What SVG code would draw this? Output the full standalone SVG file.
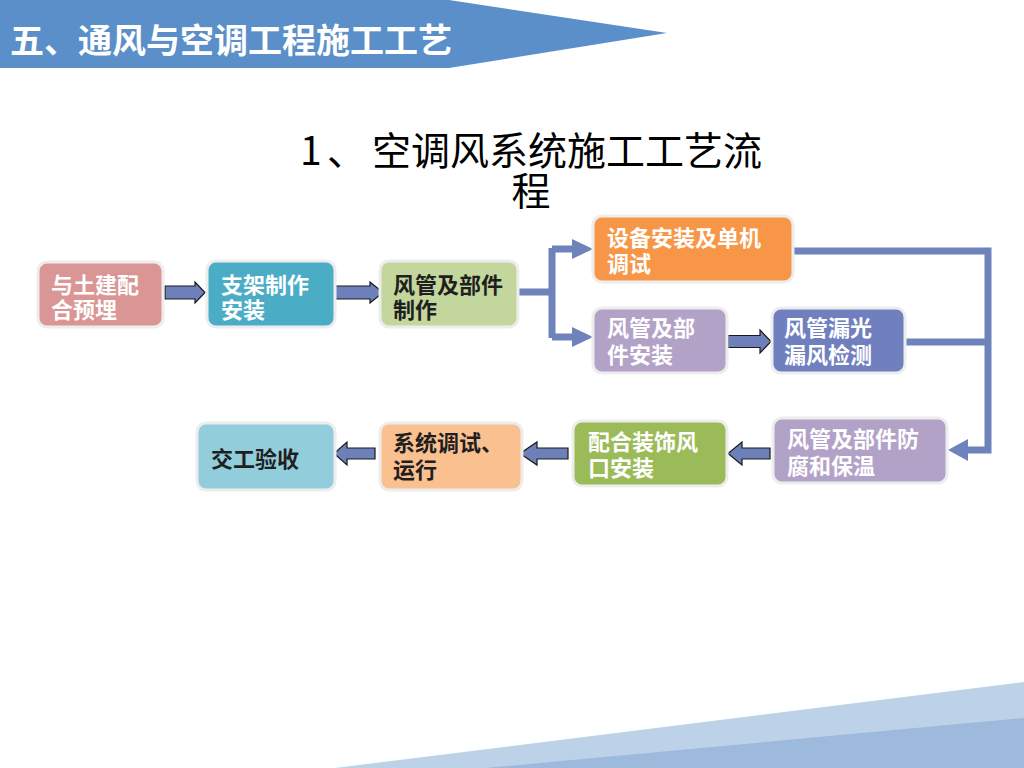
<svg xmlns="http://www.w3.org/2000/svg" width="1024" height="768" viewBox="0 0 1024 768">
<style>
.node rect{stroke:#EDEDED;stroke-width:3}
.t{font-family:"Liberation Sans","Noto Sans CJK SC",sans-serif;font-size:22px;font-weight:bold}
.w{fill:#FFFFFF}
.d{fill:#1F1F1F}
.blk{fill:#6E80BA;stroke:#1A1A1A;stroke-width:1.2}
.ln{fill:none;stroke:#6E82BC;stroke-width:7}
.hd{fill:#6E82BC}
.ttl{font-family:"Noto Sans CJK SC",sans-serif;font-size:39px;fill:#000000}
</style>
<rect width="1024" height="768" fill="#FFFFFF"/>
<polygon points="0,0 449,0 667,33 449,68 0,68" fill="#5B8FC9"/>
<text x="10" y="53" font-family="'Noto Sans CJK SC',sans-serif" font-size="34" font-weight="bold" fill="#FFFFFF">五、通风与空调工程施工工艺</text>
<text class="ttl" y="165"><tspan x="300">1</tspan><tspan x="327">、</tspan><tspan x="372">空调风系统施工工艺流</tspan></text>
<text class="ttl" x="531" y="205" text-anchor="middle">程</text>
<polygon points="335,768 1024,682 1024,768" fill="#BDD1E8"/>
<polygon points="486,768 1024,718 1024,768" fill="#9DB9DC"/>
<g id="connectors">
<path class="blk" d="M165,286 H195 V282 L205,292.5 L195,303 V299 H165 Z"/>
<path class="blk" d="M335,286 H370 V282 L383,292.5 L370,303 V299 H335 Z"/>
<path class="blk" d="M728,335.5 H760 V330 L771,341.5 L760,353 V347.5 H728 Z"/>
<path class="blk" d="M770,448 H742 V442 L728,453.5 L742,465 V459 H770 Z"/>
<path class="blk" d="M568,448 H537 V442 L520,453.5 L537,465 V459 H568 Z"/>
<path class="blk" d="M375,448 H347 V442 L334,453.5 L347,465 V459 H375 Z"/>
<path class="ln" d="M518,292 H552 M552,248 V338 M552,249 H576 M552,337 H576"/>
<polygon class="hd" points="572,239 593,249 572,259"/>
<polygon class="hd" points="572,327 593,337 572,347"/>
<path class="ln" d="M793,251 H988 V450 H965 M905,342 H988"/>
<polygon class="hd" points="968,439 948,450 968,461"/>
</g>
<g id="n1" class="node"><rect x="38" y="262" width="125" height="65" rx="9" fill="#D99694"/><text class="t w"><tspan x="51" y="293">与土建配</tspan><tspan x="51" y="318">合预埋</tspan></text></g>
<g id="n2" class="node"><rect x="207" y="261" width="128" height="66" rx="9" fill="#4BACC6"/><text class="t w"><tspan x="221" y="293">支架制作</tspan><tspan x="221" y="318">安装</tspan></text></g>
<g id="n3" class="node"><rect x="380" y="261" width="138" height="66" rx="9" fill="#C3D69B"/><text class="t d"><tspan x="393" y="293">风管及部件</tspan><tspan x="393" y="318">制作</tspan></text></g>
<g id="n4" class="node"><rect x="593" y="216" width="200" height="66" rx="9" fill="#F79646"/><text class="t w"><tspan x="607" y="246">设备安装及单机</tspan><tspan x="607" y="272">调试</tspan></text></g>
<g id="n5" class="node"><rect x="593" y="308" width="134" height="65" rx="9" fill="#B2A2C7"/><text class="t w"><tspan x="607" y="336">风管及部</tspan><tspan x="607" y="363">件安装</tspan></text></g>
<g id="n6" class="node"><rect x="772" y="308" width="133" height="65" rx="9" fill="#7080BF"/><text class="t w"><tspan x="784" y="336">风管漏光</tspan><tspan x="784" y="363">漏风检测</tspan></text></g>
<g id="n7" class="node"><rect x="773" y="418" width="174" height="65" rx="9" fill="#B2A2C7"/><text class="t w"><tspan x="787" y="447">风管及部件防</tspan><tspan x="787" y="474">腐和保温</tspan></text></g>
<g id="n8" class="node"><rect x="573" y="421" width="154" height="65" rx="9" fill="#9BBB59"/><text class="t w"><tspan x="588" y="450">配合装饰风</tspan><tspan x="588" y="476">口安装</tspan></text></g>
<g id="n9" class="node"><rect x="380" y="423" width="142" height="67" rx="9" fill="#FAC090"/><text class="t d"><tspan x="393" y="451">系统调试、</tspan><tspan x="393" y="478">运行</tspan></text></g>
<g id="n10" class="node"><rect x="197" y="423" width="138" height="67" rx="9" fill="#92CDDC"/><text class="t d" x="211" y="467">交工验收</text></g>
</svg>
